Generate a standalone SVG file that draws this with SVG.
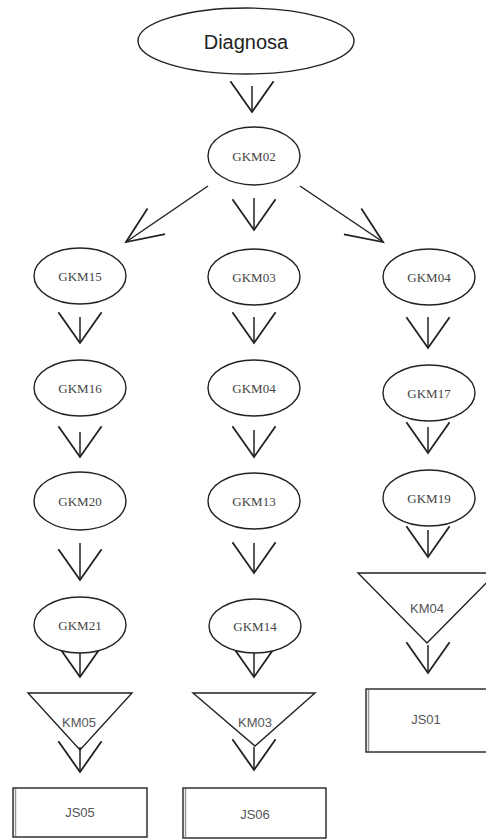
<svg xmlns="http://www.w3.org/2000/svg" width="486" height="840" viewBox="0 0 486 840">
<style>
.n{fill:#fff;stroke:#222;stroke-width:1.4}
.g{font-family:"Liberation Serif","Times New Roman",serif;font-size:13px;fill:#444;text-anchor:middle}
.s{font-family:"Liberation Sans",Arial,sans-serif;font-size:13px;fill:#555;text-anchor:middle}
.e{fill:none;stroke:#222;stroke-width:1.5}
.sh{stroke:#999;stroke-width:1.5}
</style>
<defs>
<marker id="v" markerUnits="userSpaceOnUse" markerWidth="40" markerHeight="50" refX="0" refY="0" viewBox="-30 -22 32 44" orient="auto" overflow="visible">
<path d="M-27,-19 L0,0 L-27,19" fill="none" stroke="#222" stroke-width="1.6"/>
</marker>
<marker id="vd" markerUnits="userSpaceOnUse" markerWidth="40" markerHeight="40" refX="0" refY="0" viewBox="-34 -16 36 32" orient="auto" overflow="visible">
<path d="M-33,-14 L0,0 L-33,14" fill="none" stroke="#222" stroke-width="1.6"/>
</marker>
</defs>
<rect width="486" height="840" fill="#fff"/>
<g id="edges">
<path class="e" marker-end="url(#v)" d="M252,86 V112"/>
<path class="e" marker-end="url(#v)" d="M254,198 V230"/>
<path class="e" marker-end="url(#vd)" d="M208,186 L126,242"/>
<path class="e" marker-end="url(#vd)" d="M300,186 L383,242"/>
<path class="e" marker-end="url(#v)" d="M80,317 V343"/>
<path class="e" marker-end="url(#v)" d="M254,317 V343"/>
<path class="e" marker-end="url(#v)" d="M428,317 V348"/>
<path class="e" marker-end="url(#v)" d="M80,432 V457"/>
<path class="e" marker-end="url(#v)" d="M254,430 V457"/>
<path class="e" marker-end="url(#v)" d="M428,427 V453"/>
<path class="e" marker-end="url(#v)" d="M80,543 V580"/>
<path class="e" marker-end="url(#v)" d="M254,543 V573"/>
<path class="e" marker-end="url(#v)" d="M428,530 V557"/>
<path class="e" marker-end="url(#v)" d="M80,653 V677"/>
<path class="e" marker-end="url(#v)" d="M254,653 V677"/>
<path class="e" marker-end="url(#v)" d="M428,645 V673"/>
<path class="e" marker-end="url(#v)" d="M80,747 V772"/>
<path class="e" marker-end="url(#v)" d="M254,747 V770"/>
</g>
<g id="diagnosa"><ellipse class="n" cx="246" cy="41" rx="108" ry="33"/><text x="246" y="49" style="font-family:'Liberation Sans',Arial,sans-serif;font-size:20px;fill:#222;text-anchor:middle">Diagnosa</text></g>
<g id="gkm02"><ellipse class="n" cx="254" cy="156" rx="46" ry="29"/><text class="g" x="254" y="161">GKM02</text></g>
<g id="gkm15"><ellipse class="n" cx="80" cy="276" rx="46" ry="28"/><text class="g" x="80" y="281">GKM15</text></g>
<g id="gkm03"><ellipse class="n" cx="254" cy="277" rx="46" ry="28"/><text class="g" x="254" y="282">GKM03</text></g>
<g id="gkm04r"><ellipse class="n" cx="429" cy="277" rx="46" ry="28"/><text class="g" x="429" y="282">GKM04</text></g>
<g id="gkm16"><ellipse class="n" cx="80" cy="388" rx="46" ry="28"/><text class="g" x="80" y="393">GKM16</text></g>
<g id="gkm04m"><ellipse class="n" cx="254" cy="388" rx="46" ry="28"/><text class="g" x="254" y="393">GKM04</text></g>
<g id="gkm17"><ellipse class="n" cx="429" cy="393" rx="46" ry="28"/><text class="g" x="429" y="398">GKM17</text></g>
<g id="gkm20"><ellipse class="n" cx="80" cy="501" rx="46" ry="29"/><text class="g" x="80" y="506">GKM20</text></g>
<g id="gkm13"><ellipse class="n" cx="254" cy="501" rx="46" ry="28"/><text class="g" x="254" y="506">GKM13</text></g>
<g id="gkm19"><ellipse class="n" cx="429" cy="498" rx="46" ry="28"/><text class="g" x="429" y="503">GKM19</text></g>
<g id="gkm21"><ellipse class="n" cx="80" cy="625" rx="46" ry="28"/><text class="g" x="80" y="630">GKM21</text></g>
<g id="gkm14"><ellipse class="n" cx="255" cy="626" rx="46" ry="27"/><text class="g" x="255" y="631">GKM14</text></g>
<g id="km05"><polygon class="n" fill-opacity="0" points="28,693 132,693 80,750"/><text class="s" x="79" y="727">KM05</text></g>
<g id="km03"><polygon class="n" fill-opacity="0" points="193,693 315,693 255,746"/><text class="s" x="255" y="727">KM03</text></g>
<g id="km04"><polygon class="n" fill-opacity="0" points="358,573 496,573 427,643"/><text class="s" x="427" y="613">KM04</text></g>
<g id="js05"><rect class="n" x="13" y="788" width="134" height="49"/><line class="sh" x1="15.5" y1="789" x2="15.5" y2="836"/><text class="s" x="80" y="817">JS05</text></g>
<g id="js06"><rect class="n" x="183" y="788" width="143" height="50"/><line class="sh" x1="185.5" y1="789" x2="185.5" y2="837"/><text class="s" x="255" y="819">JS06</text></g>
<g id="js01"><rect class="n" x="366" y="689" width="124" height="63"/><line class="sh" x1="368.5" y1="690" x2="368.5" y2="751"/><text class="s" x="426" y="724">JS01</text></g>
</svg>
